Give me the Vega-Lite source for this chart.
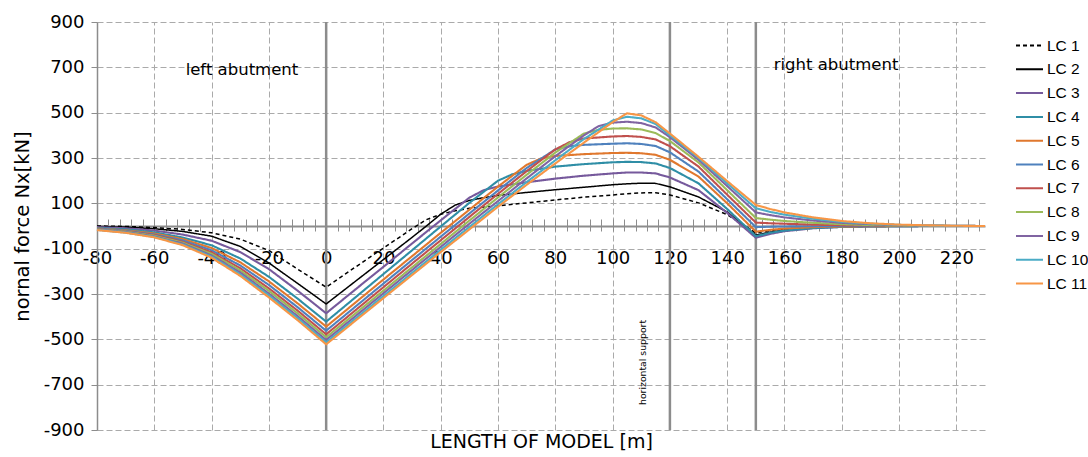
{
  "$schema": "https://vega.github.io/schema/vega-lite/v6.json",
  "width": 888,
  "height": 408,
  "autosize": {"type": "none"},
  "padding": {"left": 97, "top": 22, "right": 103, "bottom": 27},
  "background": "white",
  "config": {
    "view": {"stroke": null},
    "font": "DejaVu Sans"
  },
  "datasets": {
    "nx": [
      {"s":"LC 1","x":-80,"v":0},{"s":"LC 1","x":-70,"v":-2},{"s":"LC 1","x":-60,"v":-7},{"s":"LC 1","x":-50,"v":-15},{"s":"LC 1","x":-40,"v":-30},{"s":"LC 1","x":-30,"v":-58},{"s":"LC 1","x":-20,"v":-108},{"s":"LC 1","x":-10,"v":-190},{"s":"LC 1","x":0,"v":-270},{"s":"LC 1","x":10,"v":-183},{"s":"LC 1","x":20,"v":-97},{"s":"LC 1","x":30,"v":-12},{"s":"LC 1","x":35,"v":28},{"s":"LC 1","x":40,"v":52},{"s":"LC 1","x":45,"v":67},{"s":"LC 1","x":50,"v":78},{"s":"LC 1","x":60,"v":89},{"s":"LC 1","x":70,"v":102},{"s":"LC 1","x":80,"v":115},{"s":"LC 1","x":90,"v":127},{"s":"LC 1","x":100,"v":137},{"s":"LC 1","x":105,"v":142},{"s":"LC 1","x":110,"v":146},{"s":"LC 1","x":115,"v":147},{"s":"LC 1","x":120,"v":137},{"s":"LC 1","x":130,"v":102},{"s":"LC 1","x":140,"v":50},{"s":"LC 1","x":150,"v":-30},{"s":"LC 1","x":155,"v":-20},{"s":"LC 1","x":160,"v":-13},{"s":"LC 1","x":170,"v":-6},{"s":"LC 1","x":180,"v":-2},{"s":"LC 1","x":190,"v":-1},{"s":"LC 1","x":200,"v":0},{"s":"LC 1","x":210,"v":0},{"s":"LC 1","x":220,"v":0},{"s":"LC 1","x":230,"v":0},

      {"s":"LC 2","x":-80,"v":-2},{"s":"LC 2","x":-70,"v":-5},{"s":"LC 2","x":-60,"v":-12},{"s":"LC 2","x":-50,"v":-24},{"s":"LC 2","x":-40,"v":-45},{"s":"LC 2","x":-30,"v":-90},{"s":"LC 2","x":-20,"v":-163},{"s":"LC 2","x":-10,"v":-253},{"s":"LC 2","x":0,"v":-344},{"s":"LC 2","x":10,"v":-246},{"s":"LC 2","x":20,"v":-148},{"s":"LC 2","x":30,"v":-50},{"s":"LC 2","x":35,"v":0},{"s":"LC 2","x":40,"v":52},{"s":"LC 2","x":45,"v":92},{"s":"LC 2","x":50,"v":113},{"s":"LC 2","x":55,"v":125},{"s":"LC 2","x":60,"v":135},{"s":"LC 2","x":70,"v":148},{"s":"LC 2","x":80,"v":160},{"s":"LC 2","x":90,"v":171},{"s":"LC 2","x":100,"v":182},{"s":"LC 2","x":105,"v":186},{"s":"LC 2","x":110,"v":189},{"s":"LC 2","x":115,"v":188},{"s":"LC 2","x":120,"v":173},{"s":"LC 2","x":130,"v":128},{"s":"LC 2","x":140,"v":62},{"s":"LC 2","x":150,"v":-40},{"s":"LC 2","x":155,"v":-27},{"s":"LC 2","x":160,"v":-18},{"s":"LC 2","x":170,"v":-8},{"s":"LC 2","x":180,"v":-3},{"s":"LC 2","x":190,"v":-1},{"s":"LC 2","x":200,"v":0},{"s":"LC 2","x":210,"v":0},{"s":"LC 2","x":220,"v":0},{"s":"LC 2","x":230,"v":0},

      {"s":"LC 3","x":-80,"v":-5},{"s":"LC 3","x":-70,"v":-10},{"s":"LC 3","x":-60,"v":-20},{"s":"LC 3","x":-50,"v":-38},{"s":"LC 3","x":-40,"v":-65},{"s":"LC 3","x":-30,"v":-115},{"s":"LC 3","x":-20,"v":-190},{"s":"LC 3","x":-10,"v":-285},{"s":"LC 3","x":0,"v":-385},{"s":"LC 3","x":10,"v":-282},{"s":"LC 3","x":20,"v":-180},{"s":"LC 3","x":30,"v":-77},{"s":"LC 3","x":40,"v":25},{"s":"LC 3","x":50,"v":125},{"s":"LC 3","x":55,"v":158},{"s":"LC 3","x":60,"v":174},{"s":"LC 3","x":70,"v":193},{"s":"LC 3","x":80,"v":209},{"s":"LC 3","x":90,"v":222},{"s":"LC 3","x":100,"v":232},{"s":"LC 3","x":105,"v":236},{"s":"LC 3","x":110,"v":236},{"s":"LC 3","x":115,"v":232},{"s":"LC 3","x":120,"v":214},{"s":"LC 3","x":130,"v":158},{"s":"LC 3","x":140,"v":58},{"s":"LC 3","x":150,"v":-52},{"s":"LC 3","x":155,"v":-35},{"s":"LC 3","x":160,"v":-23},{"s":"LC 3","x":170,"v":-10},{"s":"LC 3","x":180,"v":-4},{"s":"LC 3","x":190,"v":-2},{"s":"LC 3","x":200,"v":-1},{"s":"LC 3","x":210,"v":0},{"s":"LC 3","x":220,"v":0},{"s":"LC 3","x":230,"v":0},

      {"s":"LC 4","x":-80,"v":-9},{"s":"LC 4","x":-70,"v":-15},{"s":"LC 4","x":-60,"v":-28},{"s":"LC 4","x":-50,"v":-51},{"s":"LC 4","x":-40,"v":-85},{"s":"LC 4","x":-30,"v":-143},{"s":"LC 4","x":-20,"v":-224},{"s":"LC 4","x":-10,"v":-320},{"s":"LC 4","x":0,"v":-422},{"s":"LC 4","x":10,"v":-317},{"s":"LC 4","x":20,"v":-212},{"s":"LC 4","x":30,"v":-107},{"s":"LC 4","x":40,"v":-2},{"s":"LC 4","x":50,"v":102},{"s":"LC 4","x":60,"v":200},{"s":"LC 4","x":65,"v":228},{"s":"LC 4","x":70,"v":243},{"s":"LC 4","x":80,"v":262},{"s":"LC 4","x":90,"v":273},{"s":"LC 4","x":100,"v":281},{"s":"LC 4","x":105,"v":283},{"s":"LC 4","x":110,"v":282},{"s":"LC 4","x":115,"v":276},{"s":"LC 4","x":120,"v":256},{"s":"LC 4","x":130,"v":188},{"s":"LC 4","x":140,"v":75},{"s":"LC 4","x":150,"v":-45},{"s":"LC 4","x":155,"v":-30},{"s":"LC 4","x":160,"v":-20},{"s":"LC 4","x":170,"v":-9},{"s":"LC 4","x":180,"v":-4},{"s":"LC 4","x":190,"v":-2},{"s":"LC 4","x":200,"v":-1},{"s":"LC 4","x":210,"v":0},{"s":"LC 4","x":220,"v":0},{"s":"LC 4","x":230,"v":0},

      {"s":"LC 5","x":-80,"v":-11},{"s":"LC 5","x":-70,"v":-19},{"s":"LC 5","x":-60,"v":-33},{"s":"LC 5","x":-50,"v":-58},{"s":"LC 5","x":-40,"v":-97},{"s":"LC 5","x":-30,"v":-160},{"s":"LC 5","x":-20,"v":-244},{"s":"LC 5","x":-10,"v":-341},{"s":"LC 5","x":0,"v":-444},{"s":"LC 5","x":10,"v":-340},{"s":"LC 5","x":20,"v":-236},{"s":"LC 5","x":30,"v":-133},{"s":"LC 5","x":40,"v":-30},{"s":"LC 5","x":50,"v":72},{"s":"LC 5","x":60,"v":174},{"s":"LC 5","x":70,"v":270},{"s":"LC 5","x":75,"v":298},{"s":"LC 5","x":80,"v":309},{"s":"LC 5","x":90,"v":317},{"s":"LC 5","x":100,"v":322},{"s":"LC 5","x":105,"v":323},{"s":"LC 5","x":110,"v":321},{"s":"LC 5","x":115,"v":314},{"s":"LC 5","x":120,"v":292},{"s":"LC 5","x":130,"v":218},{"s":"LC 5","x":140,"v":100},{"s":"LC 5","x":150,"v":-25},{"s":"LC 5","x":155,"v":-17},{"s":"LC 5","x":160,"v":-11},{"s":"LC 5","x":170,"v":-5},{"s":"LC 5","x":180,"v":-2},{"s":"LC 5","x":190,"v":-1},{"s":"LC 5","x":200,"v":0},{"s":"LC 5","x":210,"v":0},{"s":"LC 5","x":220,"v":0},{"s":"LC 5","x":230,"v":0},

      {"s":"LC 6","x":-80,"v":-12},{"s":"LC 6","x":-70,"v":-21},{"s":"LC 6","x":-60,"v":-37},{"s":"LC 6","x":-50,"v":-64},{"s":"LC 6","x":-40,"v":-107},{"s":"LC 6","x":-30,"v":-174},{"s":"LC 6","x":-20,"v":-260},{"s":"LC 6","x":-10,"v":-358},{"s":"LC 6","x":0,"v":-462},{"s":"LC 6","x":10,"v":-358},{"s":"LC 6","x":20,"v":-254},{"s":"LC 6","x":30,"v":-150},{"s":"LC 6","x":40,"v":-47},{"s":"LC 6","x":50,"v":55},{"s":"LC 6","x":60,"v":157},{"s":"LC 6","x":70,"v":256},{"s":"LC 6","x":80,"v":338},{"s":"LC 6","x":85,"v":352},{"s":"LC 6","x":90,"v":358},{"s":"LC 6","x":100,"v":363},{"s":"LC 6","x":105,"v":365},{"s":"LC 6","x":110,"v":362},{"s":"LC 6","x":115,"v":353},{"s":"LC 6","x":120,"v":325},{"s":"LC 6","x":130,"v":240},{"s":"LC 6","x":140,"v":118},{"s":"LC 6","x":150,"v":-5},{"s":"LC 6","x":155,"v":-3},{"s":"LC 6","x":160,"v":-2},{"s":"LC 6","x":170,"v":-1},{"s":"LC 6","x":180,"v":0},{"s":"LC 6","x":190,"v":0},{"s":"LC 6","x":200,"v":0},{"s":"LC 6","x":210,"v":0},{"s":"LC 6","x":220,"v":0},{"s":"LC 6","x":230,"v":0},

      {"s":"LC 7","x":-80,"v":-14},{"s":"LC 7","x":-70,"v":-24},{"s":"LC 7","x":-60,"v":-40},{"s":"LC 7","x":-50,"v":-70},{"s":"LC 7","x":-40,"v":-116},{"s":"LC 7","x":-30,"v":-186},{"s":"LC 7","x":-20,"v":-275},{"s":"LC 7","x":-10,"v":-373},{"s":"LC 7","x":0,"v":-478},{"s":"LC 7","x":10,"v":-374},{"s":"LC 7","x":20,"v":-270},{"s":"LC 7","x":30,"v":-166},{"s":"LC 7","x":40,"v":-63},{"s":"LC 7","x":50,"v":40},{"s":"LC 7","x":60,"v":142},{"s":"LC 7","x":70,"v":242},{"s":"LC 7","x":80,"v":338},{"s":"LC 7","x":85,"v":370},{"s":"LC 7","x":90,"v":386},{"s":"LC 7","x":100,"v":395},{"s":"LC 7","x":105,"v":397},{"s":"LC 7","x":110,"v":393},{"s":"LC 7","x":115,"v":382},{"s":"LC 7","x":120,"v":352},{"s":"LC 7","x":130,"v":262},{"s":"LC 7","x":140,"v":138},{"s":"LC 7","x":150,"v":15},{"s":"LC 7","x":155,"v":12},{"s":"LC 7","x":160,"v":10},{"s":"LC 7","x":170,"v":6},{"s":"LC 7","x":180,"v":3},{"s":"LC 7","x":190,"v":2},{"s":"LC 7","x":200,"v":1},{"s":"LC 7","x":210,"v":0},{"s":"LC 7","x":220,"v":0},{"s":"LC 7","x":230,"v":0},

      {"s":"LC 8","x":-80,"v":-15},{"s":"LC 8","x":-70,"v":-25},{"s":"LC 8","x":-60,"v":-43},{"s":"LC 8","x":-50,"v":-74},{"s":"LC 8","x":-40,"v":-123},{"s":"LC 8","x":-30,"v":-196},{"s":"LC 8","x":-20,"v":-286},{"s":"LC 8","x":-10,"v":-385},{"s":"LC 8","x":0,"v":-491},{"s":"LC 8","x":10,"v":-388},{"s":"LC 8","x":20,"v":-285},{"s":"LC 8","x":30,"v":-182},{"s":"LC 8","x":40,"v":-79},{"s":"LC 8","x":50,"v":24},{"s":"LC 8","x":60,"v":126},{"s":"LC 8","x":70,"v":226},{"s":"LC 8","x":80,"v":324},{"s":"LC 8","x":90,"v":408},{"s":"LC 8","x":95,"v":424},{"s":"LC 8","x":100,"v":430},{"s":"LC 8","x":105,"v":431},{"s":"LC 8","x":110,"v":426},{"s":"LC 8","x":115,"v":410},{"s":"LC 8","x":120,"v":375},{"s":"LC 8","x":130,"v":280},{"s":"LC 8","x":140,"v":158},{"s":"LC 8","x":150,"v":35},{"s":"LC 8","x":155,"v":28},{"s":"LC 8","x":160,"v":22},{"s":"LC 8","x":170,"v":14},{"s":"LC 8","x":180,"v":8},{"s":"LC 8","x":190,"v":4},{"s":"LC 8","x":200,"v":2},{"s":"LC 8","x":210,"v":1},{"s":"LC 8","x":220,"v":0},{"s":"LC 8","x":230,"v":0},

      {"s":"LC 9","x":-80,"v":-16},{"s":"LC 9","x":-70,"v":-27},{"s":"LC 9","x":-60,"v":-46},{"s":"LC 9","x":-50,"v":-78},{"s":"LC 9","x":-40,"v":-130},{"s":"LC 9","x":-30,"v":-205},{"s":"LC 9","x":-20,"v":-298},{"s":"LC 9","x":-10,"v":-397},{"s":"LC 9","x":0,"v":-503},{"s":"LC 9","x":10,"v":-400},{"s":"LC 9","x":20,"v":-297},{"s":"LC 9","x":30,"v":-194},{"s":"LC 9","x":40,"v":-92},{"s":"LC 9","x":50,"v":10},{"s":"LC 9","x":60,"v":110},{"s":"LC 9","x":70,"v":210},{"s":"LC 9","x":80,"v":308},{"s":"LC 9","x":90,"v":400},{"s":"LC 9","x":95,"v":440},{"s":"LC 9","x":100,"v":456},{"s":"LC 9","x":105,"v":460},{"s":"LC 9","x":110,"v":454},{"s":"LC 9","x":115,"v":435},{"s":"LC 9","x":120,"v":392},{"s":"LC 9","x":130,"v":292},{"s":"LC 9","x":140,"v":176},{"s":"LC 9","x":150,"v":60},{"s":"LC 9","x":155,"v":48},{"s":"LC 9","x":160,"v":38},{"s":"LC 9","x":170,"v":24},{"s":"LC 9","x":180,"v":14},{"s":"LC 9","x":190,"v":8},{"s":"LC 9","x":200,"v":4},{"s":"LC 9","x":210,"v":2},{"s":"LC 9","x":220,"v":1},{"s":"LC 9","x":230,"v":0},

      {"s":"LC 10","x":-80,"v":-17},{"s":"LC 10","x":-70,"v":-29},{"s":"LC 10","x":-60,"v":-48},{"s":"LC 10","x":-50,"v":-82},{"s":"LC 10","x":-40,"v":-135},{"s":"LC 10","x":-30,"v":-213},{"s":"LC 10","x":-20,"v":-306},{"s":"LC 10","x":-10,"v":-406},{"s":"LC 10","x":0,"v":-513},{"s":"LC 10","x":10,"v":-411},{"s":"LC 10","x":20,"v":-309},{"s":"LC 10","x":30,"v":-207},{"s":"LC 10","x":40,"v":-105},{"s":"LC 10","x":50,"v":-4},{"s":"LC 10","x":60,"v":96},{"s":"LC 10","x":70,"v":194},{"s":"LC 10","x":80,"v":290},{"s":"LC 10","x":90,"v":384},{"s":"LC 10","x":100,"v":465},{"s":"LC 10","x":105,"v":482},{"s":"LC 10","x":110,"v":475},{"s":"LC 10","x":115,"v":450},{"s":"LC 10","x":120,"v":400},{"s":"LC 10","x":130,"v":300},{"s":"LC 10","x":140,"v":188},{"s":"LC 10","x":150,"v":78},{"s":"LC 10","x":155,"v":62},{"s":"LC 10","x":160,"v":50},{"s":"LC 10","x":170,"v":32},{"s":"LC 10","x":180,"v":18},{"s":"LC 10","x":190,"v":10},{"s":"LC 10","x":200,"v":5},{"s":"LC 10","x":210,"v":2},{"s":"LC 10","x":220,"v":1},{"s":"LC 10","x":230,"v":0},

      {"s":"LC 11","x":-80,"v":-18},{"s":"LC 11","x":-70,"v":-30},{"s":"LC 11","x":-60,"v":-50},{"s":"LC 11","x":-50,"v":-85},{"s":"LC 11","x":-40,"v":-140},{"s":"LC 11","x":-30,"v":-220},{"s":"LC 11","x":-20,"v":-315},{"s":"LC 11","x":-10,"v":-415},{"s":"LC 11","x":0,"v":-522},{"s":"LC 11","x":10,"v":-420},{"s":"LC 11","x":20,"v":-318},{"s":"LC 11","x":30,"v":-216},{"s":"LC 11","x":40,"v":-115},{"s":"LC 11","x":50,"v":-15},{"s":"LC 11","x":60,"v":85},{"s":"LC 11","x":70,"v":182},{"s":"LC 11","x":80,"v":276},{"s":"LC 11","x":90,"v":368},{"s":"LC 11","x":100,"v":458},{"s":"LC 11","x":105,"v":497},{"s":"LC 11","x":110,"v":488},{"s":"LC 11","x":115,"v":458},{"s":"LC 11","x":120,"v":408},{"s":"LC 11","x":130,"v":305},{"s":"LC 11","x":140,"v":198},{"s":"LC 11","x":150,"v":93},{"s":"LC 11","x":155,"v":75},{"s":"LC 11","x":160,"v":60},{"s":"LC 11","x":170,"v":38},{"s":"LC 11","x":180,"v":22},{"s":"LC 11","x":190,"v":12},{"s":"LC 11","x":200,"v":6},{"s":"LC 11","x":210,"v":3},{"s":"LC 11","x":220,"v":1},{"s":"LC 11","x":230,"v":0}
    ],
    "supports": [{"x": 0}, {"x": 120}, {"x": 150}],
    "notes": [
      {"label": "left abutment", "x": -29.4, "v": 688},
      {"label": "right abutment", "x": 178, "v": 710}
    ],
    "vertical": [{"label": "horizontal support", "x": 110.5, "v": -602}]
  },
  "layer": [
    {
      "data": {"name": "supports"},
      "mark": {"type": "rule", "color": "#8c8c8c", "strokeWidth": 2.5},
      "encoding": {
        "x": {
          "field": "x",
          "type": "quantitative",
          "scale": {"domain": [-80, 230], "nice": false, "zero": false},
          "axis": {
            "orient": "bottom",
            "offset": -204,
            "values": [-80,-76,-72,-68,-64,-60,-56,-52,-48,-44,-40,-36,-32,-28,-24,-20,-16,-12,-8,-4,0,4,8,12,16,20,24,28,32,36,40,44,48,52,56,60,64,68,72,76,80,84,88,92,96,100,104,108,112,116,120,124,128,132,136,140,144,148,152,156,160,164,168,172,176,180,184,188,192,196,200,204,208,212,216,220,224,228],
            "labelExpr": "datum.value % 20 === 0 ? toString(datum.value) : ''",
            "labelFont": "DejaVu Sans",
            "labelFontSize": 18,
            "labelColor": "black",
            "labelPadding": 18,
            "labelFlush": false,
            "labelOverlap": false,
            "domainColor": "#8c8c8c",
            "domainWidth": 2,
            "ticks": true,
            "tickColor": "#8c8c8c",
            "tickSize": 5,
            "tickWidth": 1,
            "grid": true,
            "gridColor": "#aaaaaa",
            "gridDash": [6, 3],
            "gridWidth": 1,
            "gridOpacity": {"condition": {"test": "datum.value % 20 === 0", "value": 1}, "value": 0},
            "title": "LENGTH OF MODEL [m]",
            "titleFont": "DejaVu Sans",
            "titleFontSize": 19,
            "titleFontWeight": "normal",
            "titleColor": "black",
            "titleX": 444,
            "titleY": 215,
            "titleBaseline": "middle",
            "titleAlign": "center"
          }
        }
      }
    },
    {
      "data": {"name": "nx"},
      "transform": [{"filter": "datum.s === 'LC 1' || datum.s === 'LC 2'"}],
      "mark": {"type": "line", "strokeJoin": "round", "strokeWidth": 1.5},
      "encoding": {
        "x": {
          "field": "x",
          "type": "quantitative",
          "scale": {"domain": [-80, 230], "nice": false, "zero": false},
          "axis": {
            "orient": "bottom",
            "offset": -204,
            "values": [-80,-76,-72,-68,-64,-60,-56,-52,-48,-44,-40,-36,-32,-28,-24,-20,-16,-12,-8,-4,0,4,8,12,16,20,24,28,32,36,40,44,48,52,56,60,64,68,72,76,80,84,88,92,96,100,104,108,112,116,120,124,128,132,136,140,144,148,152,156,160,164,168,172,176,180,184,188,192,196,200,204,208,212,216,220,224,228],
            "labels": false,
            "domain": false,
            "grid": false,
            "ticks": true,
            "tickColor": "#8c8c8c",
            "tickSize": -7,
            "tickWidth": 1,
            "title": null
          }
        },
        "y": {
          "field": "v",
          "type": "quantitative",
          "scale": {"domain": [-900, 900], "nice": false, "zero": false},
          "axis": {
            "values": [-900, -700, -500, -300, -100, 100, 300, 500, 700, 900],
            "labelExpr": "toString(datum.value)",
            "labelFont": "DejaVu Sans",
            "labelFontSize": 18,
            "labelColor": "black",
            "labelPadding": 7,
            "tickSize": 6,
            "tickColor": "#8c8c8c",
            "domainColor": "#8c8c8c",
            "domainWidth": 1.5,
            "grid": true,
            "gridColor": "#aaaaaa",
            "gridDash": [6, 3],
            "gridWidth": 1,
            "title": "nornal force Nx[kN]",
            "titleFont": "DejaVu Sans",
            "titleFontSize": 19.5,
            "titleFontWeight": "normal",
            "titleColor": "black",
            "titleAngle": -90,
            "titleX": -75,
            "titleY": 204,
            "titleBaseline": "middle",
            "titleAlign": "center"
          }
        },
        "color": {
          "field": "s",
          "type": "nominal",
          "scale": {
            "domain": ["LC 1","LC 2","LC 3","LC 4","LC 5","LC 6","LC 7","LC 8","LC 9","LC 10","LC 11"],
            "range": ["#000000","#000000","#76599c","#2f8ea6","#e0782e","#4f81bd","#c0504d","#9bbb59","#8064a2","#4bacc6","#f79646"]
          },
          "legend": {
            "orient": "none",
            "legendX": 918,
            "legendY": 9,
            "title": null,
            "symbolType": "stroke",
            "symbolSize": 729,
            "symbolStrokeWidth": 2,
            "labelFont": "Liberation Sans",
            "labelFontSize": 15.5,
            "labelColor": "black",
            "labelOffset": 3,
            "rowPadding": 0.8
          }
        },
        "strokeDash": {
          "field": "s",
          "type": "nominal",
          "scale": {
            "domain": ["LC 1","LC 2","LC 3","LC 4","LC 5","LC 6","LC 7","LC 8","LC 9","LC 10","LC 11"],
            "range": [[4,3],[1,0],[1,0],[1,0],[1,0],[1,0],[1,0],[1,0],[1,0],[1,0],[1,0]]
          },
          "legend": {
            "orient": "none",
            "legendX": 918,
            "legendY": 9,
            "title": null,
            "symbolType": "stroke",
            "symbolSize": 729,
            "symbolStrokeWidth": 2,
            "labelFont": "Liberation Sans",
            "labelFontSize": 15.5,
            "labelColor": "black",
            "labelOffset": 3,
            "rowPadding": 0.8
          }
        }
      }
    },
    {
      "data": {"name": "nx"},
      "transform": [{"filter": "datum.s !== 'LC 1' && datum.s !== 'LC 2'"}],
      "mark": {"type": "line", "strokeJoin": "round", "strokeWidth": 2.1},
      "encoding": {
        "x": {"field": "x", "type": "quantitative", "scale": {"domain": [-80, 230], "nice": false, "zero": false}, "axis": null},
        "y": {"field": "v", "type": "quantitative"},
        "color": {"field": "s", "type": "nominal"},
        "strokeDash": {"field": "s", "type": "nominal"}
      }
    },
    {
      "data": {"name": "notes"},
      "mark": {"type": "text", "font": "DejaVu Sans", "fontSize": 16.5, "color": "black", "align": "center", "baseline": "middle"},
      "encoding": {
        "x": {"field": "x", "type": "quantitative", "scale": {"domain": [-80, 230], "nice": false, "zero": false}, "axis": null},
        "y": {"field": "v", "type": "quantitative"},
        "text": {"field": "label"}
      }
    },
    {
      "data": {"name": "vertical"},
      "mark": {"type": "text", "font": "DejaVu Sans", "fontSize": 9.3, "color": "black", "align": "center", "baseline": "middle", "angle": -90},
      "encoding": {
        "x": {"field": "x", "type": "quantitative", "scale": {"domain": [-80, 230], "nice": false, "zero": false}, "axis": null},
        "y": {"field": "v", "type": "quantitative"},
        "text": {"field": "label"}
      }
    }
  ],
  "resolve": {"scale": {"x": "independent"}}
}
